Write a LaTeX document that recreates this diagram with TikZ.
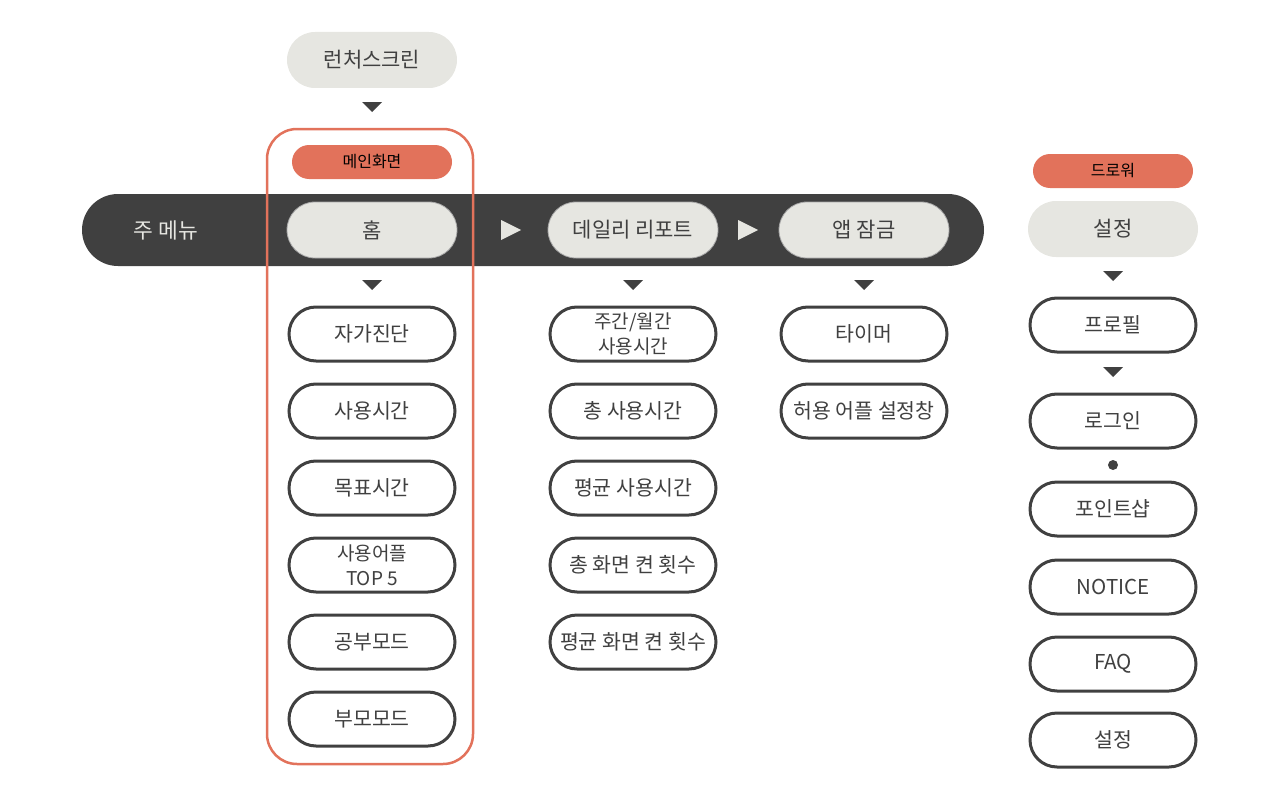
\documentclass[tikz,border=0pt]{standalone}
\usepackage{fontspec}
\setmainfont{Noto Sans CJK KR}
\usepackage{xcolor}
\usetikzlibrary{shapes,positioning,calc}
\definecolor{dark}{HTML}{404040}
\definecolor{pale}{HTML}{E6E6E1}
\definecolor{accent}{HTML}{E2725B}
\tikzset{pill/.style={rectangle,rounded corners=28pt,fill=pale,minimum width=170pt,minimum height=56pt,inner sep=0pt,text=dark,font=\fontsize{21}{24}\selectfont},
  menupill/.style={pill,draw=gray!70,line width=0.8pt},
  item/.style={rectangle,rounded corners=27pt,draw=dark,line width=3pt,fill=white,minimum width=166pt,minimum height=54pt,inner sep=0pt,text=dark,align=center,font=\fontsize{20.5}{25}\selectfont},
  twoline/.style={item,font=\fontsize{19}{25}\selectfont},
  tag/.style={rectangle,rounded corners=17pt,fill=accent,minimum width=160pt,minimum height=34pt,inner sep=0pt,text=black,font=\fontsize{16}{18}\selectfont}}
\newcommand{\downmark}[1]{\fill[dark] ($(#1)+(-10,-5)$) -- ++(20,0) -- ++(-10,10) -- cycle;}
\newcommand{\nextmark}[1]{\fill[pale] ($(#1)+(-10,-10)$) -- ++(0,20) -- ++(20,-10) -- cycle;}

\begin{document}
\begin{tikzpicture}[x=1pt,y=-1pt]
    \useasboundingbox (0,0) rectangle (1280,800);

    % main menu bar
    \node[rectangle,rounded corners=36pt,fill=dark,minimum width=902pt,minimum height=72pt,inner sep=0pt] (bar) at (533,230) {};
    \node[text=pale,font=\fontsize{21.5}{24}\selectfont] (menu) at (166,230) {주 메뉴};

    % main screen frame
    \draw[accent,line width=2.5pt,rounded corners=30pt] (267,129) rectangle (473,764);

    \node[pill] (launch) at (372,60) {런처스크린};
    \node[tag] (mainscr) at (372,162) {메인화면};
    \node[menupill] (home) at (372,230) {홈};
    \node[menupill] (daily) at (633,230) {데일리 리포트};
    \node[menupill] (lock) at (864,230) {앱 잠금};

    \node[tag] (drawer) at (1113,171) {드로워};
    \node[pill] (setting) at (1113,229) {설정};

    % home column
    \node[item] (selfcheck) at (372,334) {자가진단};
    \node[item] (usetime) at (372,411) {사용시간};
    \node[item] (goal) at (372,488) {목표시간};
    \node[twoline] (topapps) at (372,565) {사용어플\\TOP 5};
    \node[item] (study) at (372,642) {공부모드};
    \node[item] (parent) at (372,719) {부모모드};

    % daily report column
    \node[twoline] (weekly) at (633,334) {주간/월간\\사용시간};
    \node[item] (total) at (633,411) {총 사용시간};
    \node[item] (average) at (633,488) {평균 사용시간};
    \node[item] (totalon) at (633,565) {총 화면 켠 횟수};
    \node[item] (avgon) at (633,642) {평균 화면 켠 횟수};

    % app lock column
    \node[item] (timer) at (864,334) {타이머};
    \node[item] (allowed) at (864,411) {허용 어플 설정창};

    % drawer column
    \node[item] (profile) at (1113,325) {프로필};
    \node[item] (login) at (1113,421) {로그인};
    \node[item] (shop) at (1113,509) {포인트샵};
    \node[item] (notice) at (1113,587) {NOTICE};
    \node[item] (faq) at (1113,664) {FAQ};
    \node[item] (settings) at (1113,740) {설정};

    % markers
    \downmark{372,107}
    \downmark{372,285}
    \downmark{633,285}
    \downmark{864,285}
    \downmark{1113,276}
    \downmark{1113,372}
    \nextmark{511,230}
    \nextmark{748,230}
    \fill[dark] (1113,465) circle (5);
\end{tikzpicture}
\end{document}
